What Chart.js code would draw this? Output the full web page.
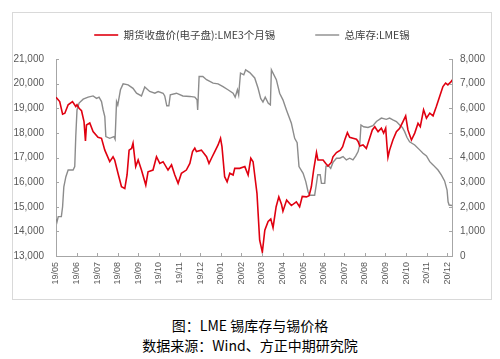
<!DOCTYPE html>
<html>
<head>
<meta charset="utf-8">
<script src="https://cdn.jsdelivr.net/npm/chart.js@4"></script>
<style>
  body { margin: 0; background: #fff; width: 500px; height: 359px; position: relative; overflow: hidden; }
  #box { position: absolute; left: 12px; top: 12px; width: 478px; height: 286px; border: 1px solid #d9d9d9; }
  .cap { position: absolute; left: 0; width: 500px; text-align: center; font-family: "Noto Sans CJK SC", sans-serif; font-size: 14px; color: #000; line-height: 18px; }
</style>
</head>
<body>
<div id="box"><canvas id="tinChart"></canvas></div>
<div class="cap" style="top: 316px;">图：LME 锡库存与锡价格</div>
<div class="cap" style="top: 336px;">数据来源：Wind、方正中期研究院</div>
<script>
// Etiquetas del eje X (un tick por mes)
const monthLabels = ['19/05', '19/06', '19/07', '19/08', '19/09', '19/10', '19/11', '19/12', '20/01', '20/02',
  '20/03', '20/04', '20/05', '20/06', '20/07', '20/08', '20/09', '20/10', '20/11', '20/12'];

// Precio LME 3 meses (posición en meses desde 19/05, valor)
const priceX = [0, 0.18, 0.32, 0.43, 0.59, 0.80, 0.96, 1.02, 1.12, 1.24, 1.36, 1.43, 1.48, 1.64, 1.80, 2.04, 2.21, 2.37,
  2.61, 2.77, 2.85, 3.01, 3.18, 3.34, 3.45, 3.55, 3.67, 3.74, 3.87, 3.99, 4.15, 4.36, 4.47, 4.71, 4.88, 5.04, 5.20, 5.44,
  5.61, 5.77, 5.93, 6.09, 6.33, 6.50, 6.63, 6.74, 6.82, 7.06, 7.31, 7.43, 7.55, 7.71, 7.87, 7.99, 8.06, 8.19, 8.31, 8.44,
  8.60, 8.68, 8.92, 9.17, 9.33, 9.46, 9.57, 9.76, 9.89, 10.02, 10.14, 10.30, 10.43, 10.54, 10.69, 10.82, 10.95, 11.02,
  11.20, 11.43, 11.67, 11.83, 11.96, 12.16, 12.29, 12.40, 12.51, 12.65, 12.72, 12.97, 13.10, 13.21, 13.37, 13.45, 13.62,
  13.81, 13.92, 14.02, 14.15, 14.26, 14.42, 14.59, 14.67, 14.75, 14.91, 15.07, 15.23, 15.36, 15.48, 15.64, 15.80, 15.91,
  16.01, 16.07, 16.12, 16.20, 16.36, 16.53, 16.69, 16.85, 16.98, 17.09, 17.26, 17.42, 17.58, 17.69, 17.85, 17.99, 18.15,
  18.31, 18.47, 18.63, 18.79, 18.92, 19.03, 19.20, 19.23];
const priceY = [19450, 19270, 18760, 18800, 19140, 19270, 19070, 19140, 19000, 18900, 18460, 17670, 18320, 18400, 18050,
  17820, 17780, 17300, 16830, 17030, 16900, 16360, 15810, 15740, 16290, 17300, 17370, 17580, 16630, 16900, 16490, 15880,
  16420, 16490, 17030, 16760, 16830, 16490, 16700, 16290, 15950, 16360, 16490, 16760, 17240, 17380, 17240, 17300, 17030,
  16760, 16970, 17240, 17510, 17780, 17440, 16220, 16010, 16360, 16290, 16560, 16560, 16630, 16290, 16970, 16830, 15540,
  13640, 13160, 14050, 14400, 14500, 14150, 15000, 15400, 15100, 14820, 15270, 15050, 15200, 15000, 15420, 15400, 15450,
  15810, 16490, 17200, 16900, 16900, 16760, 16650, 16800, 17030, 17200, 17300, 17440, 17710, 18010, 17820, 17780, 17740,
  17650, 17470, 17510, 17370, 17780, 18120, 18250, 18050, 18190, 17990, 18190, 17510, 17010, 17300, 17710, 18050, 18190,
  18460, 18690, 18120, 17710, 17990, 18390, 18250, 18940, 18600, 18800, 18690, 19070, 19480, 19880, 20020, 19950, 20090,
  20160];

// Inventario total LME
const stockX = [0.01, 0.05, 0.11, 0.26, 0.32, 0.38, 0.48, 0.59, 0.83, 0.91, 0.96, 1.02, 1.12, 1.32, 1.56, 1.80, 1.97, 2.09,
  2.21, 2.29, 2.37, 2.42, 2.61, 2.81, 2.87, 2.94, 3.00, 3.13, 3.26, 3.50, 3.74, 3.91, 4.15, 4.31, 4.55, 4.80, 4.96, 5.20,
  5.28, 5.38, 5.48, 5.55, 5.85, 6.16, 6.50, 6.74, 6.85, 6.88, 6.95, 7.13, 7.31, 7.63, 7.87, 8.11, 8.35, 8.60, 8.70, 8.81,
  8.87, 8.96, 9.12, 9.21, 9.41, 9.65, 9.81, 9.94, 10.05, 10.16, 10.31, 10.41, 10.46, 10.70, 10.86, 11.02, 11.19, 11.43,
  11.59, 11.71, 11.80, 12.00, 12.13, 12.24, 12.32, 12.56, 12.65, 12.71, 12.83, 12.89, 13.05, 13.11, 13.24, 13.34, 13.45,
  13.62, 13.78, 13.94, 14.10, 14.26, 14.42, 14.55, 14.67, 14.75, 14.81, 14.94, 15.15, 15.39, 15.56, 15.80, 16.04, 16.20,
  16.36, 16.53, 16.69, 16.82, 16.93, 17.04, 17.17, 17.42, 17.66, 17.82, 17.99, 18.15, 18.31, 18.55, 18.71, 18.87, 18.99,
  19.04, 19.09, 19.23];
const stockY = [1500, 1390, 1600, 1600, 2000, 2810, 3220, 3490, 3490, 3630, 4850, 5930, 6210, 6370, 6450, 6500, 6400, 6450,
  6270, 5930, 5660, 4850, 4780, 4850, 4740, 6270, 6130, 6750, 6990, 6950, 6810, 6610, 6500, 6860, 6680, 6610, 6680, 6610,
  6500, 6100, 6100, 6550, 6610, 6500, 6480, 6450, 6340, 5930, 7290, 7290, 7160, 7020, 6990, 6880, 6750, 6610, 6450, 6750,
  6540, 7430, 7360, 7560, 7450, 7230, 6820, 6400, 6250, 6450, 6200, 6140, 7560, 7160, 6610, 6340, 5930, 5390, 4780, 4600,
  3630, 3360, 3020, 2610, 2470, 2470, 2950, 3300, 3300, 2950, 2950, 3650, 3650, 3560, 3800, 3970, 3970, 4040, 3900, 3970,
  3900, 4060, 4240, 4510, 5320, 5250, 5220, 5290, 5460, 5600, 5550, 5600, 5530, 5460, 5320, 5220, 5050, 4820, 4640, 4510,
  4310, 4170, 4060, 3830, 3700, 3490, 3290, 3050, 2680, 2200, 2070, 2050];

const AXIS_COLOR = '#a6a6a6';
const TEXT_COLOR = '#595959';

// Ticks hacia dentro del área del gráfico
const innerTicks = {
    id: 'innerTicks',
    afterDatasetsDraw(chart) {
        const { ctx, chartArea, scales } = chart;
        ctx.save();
        ctx.strokeStyle = AXIS_COLOR;
        ctx.lineWidth = 1;
        ctx.beginPath();
        scales.x.ticks.forEach(t => {
            const px = Math.round(scales.x.getPixelForValue(t.value)) + 0.5;
            ctx.moveTo(px, chartArea.bottom);
            ctx.lineTo(px, chartArea.bottom - 3);
        });
        scales.y.ticks.forEach(t => {
            const py = Math.round(scales.y.getPixelForValue(t.value)) + 0.5;
            ctx.moveTo(chartArea.left, py);
            ctx.lineTo(chartArea.left + 3, py);
        });
        scales.y1.ticks.forEach(t => {
            const py = Math.round(scales.y1.getPixelForValue(t.value)) + 0.5;
            ctx.moveTo(chartArea.right, py);
            ctx.lineTo(chartArea.right - 3, py);
        });
        ctx.stroke();
        ctx.restore();
    }
};

// Leyenda: altura fija y texto más arriba
const legendSpot = {
    id: 'legendSpot',
    beforeInit(chart) {
        const fit = chart.legend.fit;
        chart.legend.fit = function () {
            fit.call(this);
            this.height = 46;
        };
    },
    afterLayout(chart) {
        const lab = chart.options.plugins.legend.labels;
        chart.legend.top = 22 - lab.padding - lab.font.size / 2;
    }
};

const ctx = document.getElementById('tinChart').getContext('2d');

const tinChart = new Chart(ctx, {
    type: 'line',
    data: {
        datasets: [{
            label: '期货收盘价(电子盘):LME3个月锡',
            data: priceX.map((x, i) => ({ x: x, y: priceY[i] })),
            borderColor: '#e00010',
            backgroundColor: '#e00010',
            borderWidth: 1.6,
            pointRadius: 0,
            pointStyle: 'line',
            tension: 0,
            yAxisID: 'y',
            order: 1
        }, {
            label: '总库存:LME锡',
            data: stockX.map((x, i) => ({ x: x, y: stockY[i] })),
            borderColor: '#8c8c8c',
            backgroundColor: '#8c8c8c',
            borderWidth: 1.4,
            pointRadius: 0,
            pointStyle: 'line',
            tension: 0,
            yAxisID: 'y1',
            order: 2
        }]
    },
    options: {
        responsive: true,
        maintainAspectRatio: false,
        animation: false,
        layout: { padding: 0 },
        scales: {
            x: {
                type: 'linear',
                bounds: 'data',
                min: 0,
                max: 19.23,
                grid: { display: false, drawTicks: false },
                border: { display: true, color: AXIS_COLOR },
                ticks: {
                    stepSize: 1,
                    includeBounds: false,
                    autoSkip: false,
                    minRotation: 90,
                    maxRotation: 90,
                    padding: 6,
                    color: TEXT_COLOR,
                    font: { family: 'Liberation Sans', size: 9 },
                    callback: (v) => monthLabels[v] || ''
                },
                afterFit: (scale) => { scale.height = 43; }
            },
            y: {
                position: 'left',
                min: 13000,
                max: 21000,
                grid: { display: false, drawTicks: false },
                border: { display: true, color: AXIS_COLOR },
                ticks: {
                    stepSize: 1000,
                    padding: 12,
                    color: TEXT_COLOR,
                    font: { family: 'Liberation Sans', size: 10 },
                    callback: (v) => v.toLocaleString('en-US')
                },
                afterFit: (scale) => { scale.width = 43; }
            },
            y1: {
                position: 'right',
                min: 0,
                max: 8000,
                grid: { display: false, drawTicks: false },
                border: { display: true, color: AXIS_COLOR },
                ticks: {
                    stepSize: 1000,
                    padding: 8,
                    color: TEXT_COLOR,
                    font: { family: 'Liberation Sans', size: 10 },
                    callback: (v) => v.toLocaleString('en-US')
                },
                afterFit: (scale) => { scale.width = 39; }
            }
        },
        plugins: {
            legend: {
                display: true,
                position: 'top',
                labels: {
                    usePointStyle: true,
                    pointStyleWidth: 24,
                    padding: 40,
                    color: '#404040',
                    font: { family: 'Noto Sans CJK SC', size: 10.5 }
                }
            },
            tooltip: { enabled: false }
        }
    },
    plugins: [innerTicks, legendSpot]
});
</script>
</body>
</html>
